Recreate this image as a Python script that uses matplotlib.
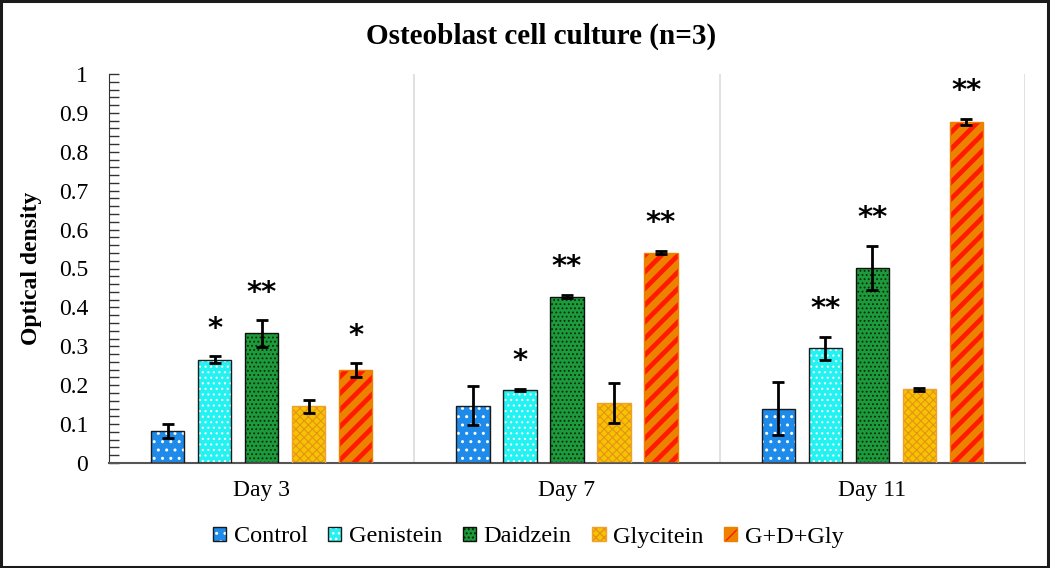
import matplotlib
matplotlib.use("Agg")
import matplotlib.pyplot as plt
import numpy as np
from matplotlib.patches import Rectangle, Patch

days = ["Day 3", "Day 7", "Day 11"]
series = ["Control", "Genistein", "Daidzein", "Glycitein", "G+D+Gly"]

control = [0.082, 0.147, 0.140]
genistein = [0.266, 0.187, 0.295]
daidzein = [0.333, 0.428, 0.502]
glycitein = [0.146, 0.155, 0.189]
gdgly = [0.239, 0.541, 0.877]

control_err = [0.018, 0.050, 0.067]
genistein_err = [0.008, 0.003, 0.029]
daidzein_err = [0.034, 0.004, 0.056]
glycitein_err = [0.017, 0.051, 0.003]
gdgly_err = [0.017, 0.005, 0.008]

control_sig = ["", "", ""]
genistein_sig = ["*", "*", "**"]
daidzein_sig = ["**", "**", "**"]
glycitein_sig = ["", "", ""]
gdgly_sig = ["*", "**", "**"]

values = [control, genistein, daidzein, glycitein, gdgly]
errors = [control_err, genistein_err, daidzein_err, glycitein_err, gdgly_err]
sigs = [control_sig, genistein_sig, daidzein_sig, glycitein_sig, gdgly_sig]

# style: facecolor, hatch color, hatch, hatch linewidth, edge color
styles = [
    ("#1E8BEA", "white", "..", 1.0, "#1a1a1a"),
    ("#22F2F2", "white", "...", 0.8, "#1a1a1a"),
    ("#1C9A3C", "#0a2a0a", "....", 0.8, "#101010"),
    ("#F5C400", "#E8901A", "xxxx", 0.8, "#F0A030"),
    ("#EC8200", "#FF1A00", "//", 3.4, "#EC8200"),
]

serif = "Liberation Serif"
fig = plt.figure(figsize=(10.5, 5.68), dpi=100)
ax = fig.add_axes([109 / 1050, 1 - 463 / 568, (1025 - 109) / 1050, (463 - 74) / 568])

x = np.arange(len(days))
width = 0.109
step = 0.154
handles = []
for i, (vals, errs, sg, st) in enumerate(zip(values, errors, sigs, styles)):
    face, hcol, hatch, hlw, edge = st
    pos = x + (i - 2) * step
    with plt.rc_context({"hatch.linewidth": hlw}):
        ax.bar(pos, vals, width, color=face, edgecolor=hcol, hatch=hatch,
               linewidth=0, zorder=2)
        ph = Patch(facecolor=face, edgecolor=hcol, hatch=hatch, linewidth=0)
    ax.bar(pos, vals, width, fill=False, edgecolor=edge, linewidth=1.0, zorder=3)
    pe = Patch(facecolor="none", edgecolor=edge, linewidth=1.0)
    handles.append((ph, pe))
    ax.errorbar(pos, vals, yerr=errs, fmt="none", ecolor="black", elinewidth=2,
                capsize=4, capthick=2, zorder=4)
    for p, v, e, s in zip(pos, vals, errs, sg):
        if s:
            ax.text(p, v + e + 0.035, s, ha="center", va="bottom",
                    fontsize=21, fontweight="heavy", family="DejaVu Sans", zorder=5)

ax.set_xlim(-0.5, 2.5)
ax.set_ylim(0, 1)
ax.set_yticks(np.arange(0, 1.01, 0.1))
ax.set_yticklabels(["0", "0.1", "0.2", "0.3", "0.4", "0.5", "0.6", "0.7", "0.8", "0.9", "1"])
ax.set_yticks(np.arange(0, 1.001, 0.02), minor=True)
ax.tick_params(axis="y", which="both", direction="in", length=7, width=1,
               color="#333333", pad=15)
ax.tick_params(axis="y", labelsize=17)
for lab in ax.get_yticklabels():
    lab.set_family(serif)
ax.set_xticks(x)
ax.set_xticklabels(days, family=serif, fontsize=17)
ax.tick_params(axis="x", length=0, pad=12)

ax.set_xticks([0.5, 1.5, 2.5], minor=True)
ax.tick_params(axis="x", which="minor", length=0)
ax.grid(True, axis="x", which="minor", color="#DCDCDC", linewidth=1.2, zorder=0)
ax.set_axisbelow(True)

for s in ["top", "right"]:
    ax.spines[s].set_visible(False)
ax.spines["left"].set_color("#333333")
ax.spines["bottom"].set_color("#555555")
ax.spines["bottom"].set_linewidth(1.5)

ax.set_ylabel("Optical density", family=serif, fontsize=17, fontweight="bold")
ax.yaxis.set_label_coords(-0.073, 0.5)

fig.text(0.515, 1 - 36 / 568, "Osteoblast cell culture (n=3)", ha="center",
         va="center", family=serif, fontsize=21, fontweight="bold")

leg = fig.legend(handles, series, loc="center", bbox_to_anchor=(0.503, 1 - 537 / 568),
                 ncol=5, frameon=False, prop={"family": serif, "size": 17.5},
                 handlelength=0.55, handleheight=0.55, handletextpad=0.3,
                 columnspacing=0.85)

fig.add_artist(Rectangle((0.001, 0.002), 0.997, 0.996, transform=fig.transFigure,
                         fill=False, edgecolor="#1a1a1a", linewidth=2.2))

fig.savefig("out.png", dpi=100)
